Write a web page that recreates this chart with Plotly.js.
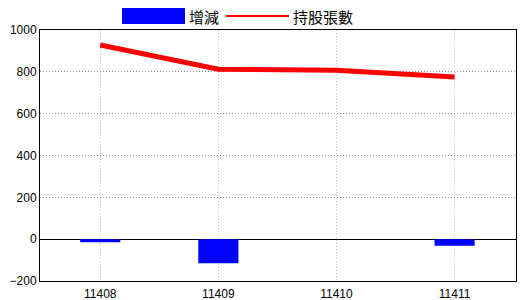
<!DOCTYPE html>
<html><head><meta charset="utf-8">
<script src="https://cdn.plot.ly/plotly-3.0.1.min.js"></script>
<style>body{margin:0;background:#fff}#c{width:520px;height:300px}</style>
</head><body><div id="c"></div>
<script>
const categories = ['11408','11409','11410','11411'];
const changeValues = [-15, -115, 0, -32];
const holdingValues = [928, 812, 808, 775];
const seriesNames = ['增減','持股張數'];
const yTicks = [-200, 0, 200, 400, 600, 800, 1000];

const tickFont = {family:'Liberation Sans Narrow, Liberation Sans, Arial', size:12, color:'#000'};
const traces = [
  {type:'bar', x:categories, y:changeValues, name:seriesNames[0], marker:{color:'#0000ff', line:{width:0}}, width:0.34, showlegend:false},
  {type:'scatter', mode:'lines', x:categories, y:holdingValues, name:seriesNames[1], line:{color:'#ff0000', width:5}, showlegend:false}
];
const layout = {
  width:520, height:300,
  margin:{l:40, r:4, t:30, b:19, pad:0},
  paper_bgcolor:'#fff', plot_bgcolor:'#fff',
  showlegend:false,
  xaxis:{type:'category', range:[-0.51, 3.52], showgrid:true, gridcolor:'#b0c6d6', griddash:'1px,2px', gridwidth:1,
         showline:true, linecolor:'#000', linewidth:1, mirror:true, ticks:'', tickfont:tickFont, ticklabelstandoff:2},
  yaxis:{range:[-200,1000], tickvals:yTicks, showgrid:true, gridcolor:'#999', griddash:'1px,2px', gridwidth:1,
         zeroline:true, zerolinecolor:'#000', zerolinewidth:1,
         showline:true, linecolor:'#000', linewidth:1, mirror:true, ticks:'', tickfont:tickFont},
  shapes:[
    {type:'rect', xref:'paper', yref:'paper', x0:(122-40)/476, x1:(185-40)/476, y0:(281-24)/251, y1:(281-8)/251, fillcolor:'#0000ff', line:{width:0}},
    {type:'line', xref:'paper', yref:'paper', x0:(226-40)/476, x1:(289-40)/476, y0:(281-16)/251, y1:(281-16)/251, line:{color:'#ff0000', width:2}}
  ],
  annotations:[
    {xref:'paper', yref:'paper', x:(187-40)/476, y:(281-16)/251, xanchor:'left', yanchor:'middle', text:seriesNames[0], showarrow:false, font:{family:'Noto Sans CJK TC', size:15, color:'#000'}},
    {xref:'paper', yref:'paper', x:(291-40)/476, y:(281-16)/251, xanchor:'left', yanchor:'middle', text:seriesNames[1], showarrow:false, font:{family:'Noto Sans CJK TC', size:15, color:'#000'}}
  ]
};
Plotly.newPlot('c', traces, layout, {displayModeBar:false, staticPlot:true});
</script></body></html>
